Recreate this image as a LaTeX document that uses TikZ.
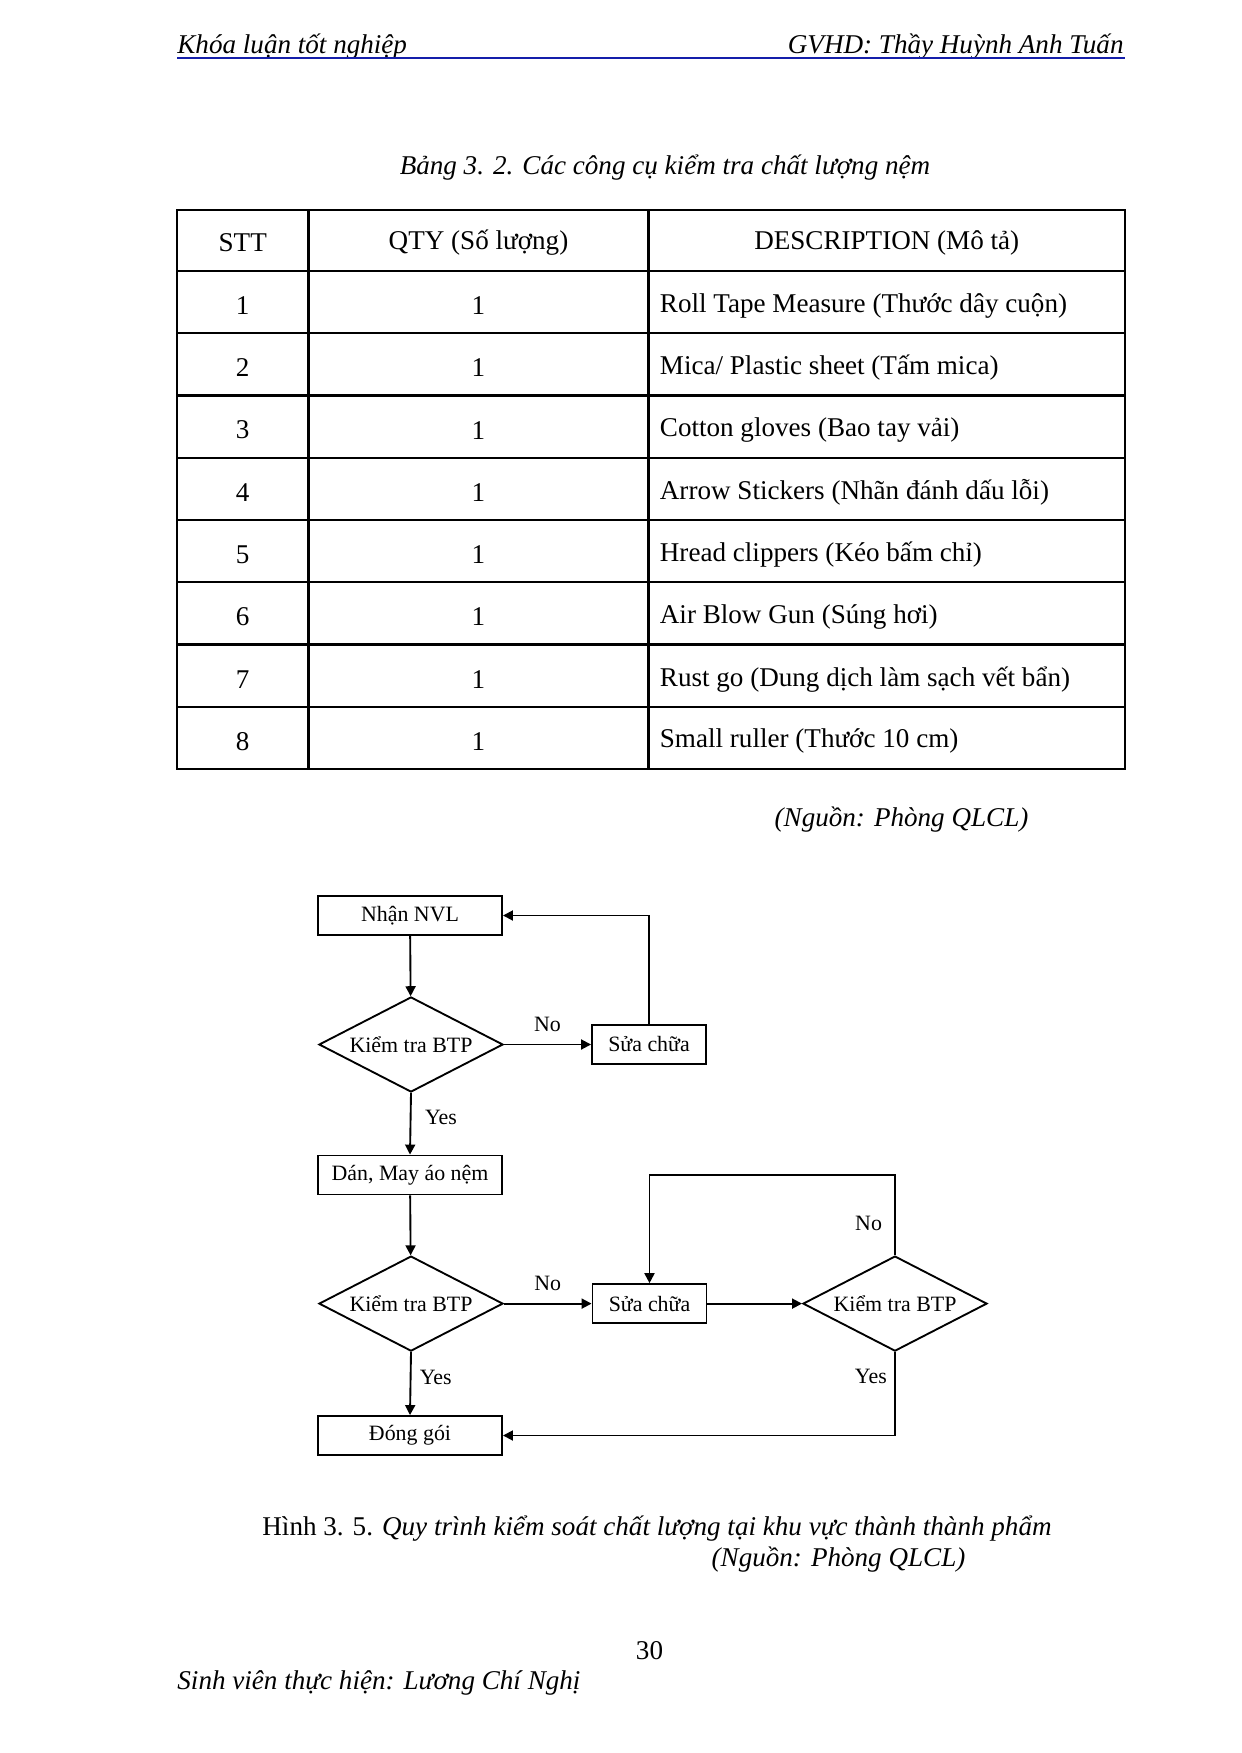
\documentclass[tikz,border=0pt]{standalone}
\usepackage{fontspec}
\setmainfont{Liberation Serif}
\usepackage{tikz}
\usetikzlibrary{arrows.meta,positioning,shapes.geometric}
\definecolor{rulerblue}{RGB}{20,30,170}
\newcommand{\bodyfont}{\fontsize{13pt}{15pt}\selectfont}
\newcommand{\chartfont}{\fontsize{10.5pt}{12pt}\selectfont}

\begin{document}
\begin{tikzpicture}[x=0.4797pt,y=-0.4797pt,
    cell/.style={inner sep=0pt,font=\bodyfont},
    box/.style={draw,line width=0.9pt,minimum width=88.3pt,minimum height=18.7pt,inner sep=1pt,font=\chartfont},
    check/.style={draw,diamond,aspect=1.94,line width=0.9pt,minimum width=88.3pt,minimum height=45.6pt,inner sep=0pt,font=\chartfont},
    flow/.style={line width=0.9pt,-{Triangle[length=4.8pt,width=4.8pt]}},
    lbl/.style={font=\chartfont,inner sep=1pt}]
    \useasboundingbox (0,0) rectangle (1241,1753);

    % header and footer
    \node[cell,anchor=base west,font=\bodyfont\itshape] (head1) at (177,53.5) {Khóa luận tốt nghiệp};
    \node[cell,anchor=base east,font=\bodyfont\itshape] (head2) at (1124,53.5) {GVHD: Thầy Huỳnh Anh Tuấn};
    \draw[rulerblue,line width=1pt] (177,57.7) -- (1125,57.7);
    \node[cell] (page) at (649.5,1650.5) {30};
    \node[cell,anchor=west,font=\bodyfont\itshape] (foot) at (177,1683) {Sinh viên thực hiện: Lương Chí Nghị};

    % table
    \node[cell,font=\bodyfont\itshape] (tabcap) at (665,168) {Bảng 3. 2. Các công cụ kiểm tra chất lượng nệm};
    \draw[line width=1pt] (177,210) rectangle (1125,769);
    \draw[line width=1pt] (308.5,210) -- (308.5,769) (648.5,210) -- (648.5,769);
    \foreach \k in {0,...,7}
      \draw[line width=1pt] (177,{271+62.25*\k}) -- (1125,{271+62.25*\k});
    \node[cell] (h1) at (242.75,243) {STT};
    \node[cell] (h2) at (478.5,243) {QTY (Số lượng)};
    \node[cell] (h3) at (886.75,243) {DESCRIPTION (Mô tả)};
    \foreach \d [count=\i] in {
      Roll Tape Measure (Thước dây cuộn),
      Mica/ Plastic sheet (Tấm mica),
      Cotton gloves (Bao tay vải),
      Arrow Stickers (Nhãn đánh dấu lỗi),
      Hread clippers (Kéo bấm chỉ),
      Air Blow Gun (Súng hơi),
      Rust go (Dung dịch làm sạch vết bẩn),
      Small ruller (Thước 10 cm)}
    {
      \pgfmathsetmacro{\y}{271+62.25*(\i-0.5)+3.5}
      \node[cell] (n\i) at (242.75,\y) {\i};
      \node[cell] (q\i) at (478.5,\y) {1};
      \node[cell,anchor=west] (d\i) at (659.5,\y) {\d};
    }
    \node[cell,font=\bodyfont\itshape] (tabsrc) at (901.5,820) {(Nguồn: Phòng QLCL)};

    % flowchart
    \node[box] (nvl) at (410,915.5) {Nhận NVL};
    \node[check] (k1) at (411,1044.5) {Kiểm tra BTP};
    \node[box,minimum width=54.7pt] (sc1) at (649,1044.5) {Sửa chữa};
    \node[box] (dan) at (410,1175) {Dán, May áo nệm};
    \node[check] (k2) at (411,1303.6) {Kiểm tra BTP};
    \node[box,minimum width=54.7pt] (sc2) at (649.5,1303.6) {Sửa chữa};
    \node[check] (k3) at (895,1303.6) {Kiểm tra BTP};
    \node[box] (dong) at (410,1435.5) {Đóng gói};
    \coordinate (top2) at (649.5,1175);

    \draw[flow] (nvl) -- (k1);
    \draw[flow] (k1.east) -- node[lbl,above=4.5pt] (no1) {No} (sc1.west);
    \draw[flow] (sc1.north) |- (nvl.east);
    \draw[flow] (k1.south) -- node[lbl,right=5.5pt,pos=0.4] (yes1) {Yes} (dan.north);
    \draw[flow] (dan) -- (k2);
    \draw[flow] (k2.east) -- node[lbl,above=4.5pt] (no2) {No} (sc2.west);
    \draw[flow] (k2.south) -- node[lbl,right=3pt,pos=0.4] (yes2) {Yes} (dong.north);
    \draw[flow] (sc2.east) -- (k3.west);
    \draw[flow] (k3.north) |- node[lbl,left=4.8pt,pos=0.2] (no3) {No} (top2) -- (sc2.north);
    \draw[flow] (k3.south) |- node[lbl,left=2.5pt,pos=0.145] (yes3) {Yes} (dong.east);

    \node[cell] (figcap) at (657,1529) {Hình 3. 5. \textit{Quy trình kiểm soát chất lượng tại khu vực thành thành phẩm}};
    \node[cell,font=\bodyfont\itshape] (figsrc) at (838.5,1560) {(Nguồn: Phòng QLCL)};
\end{tikzpicture}
\end{document}
